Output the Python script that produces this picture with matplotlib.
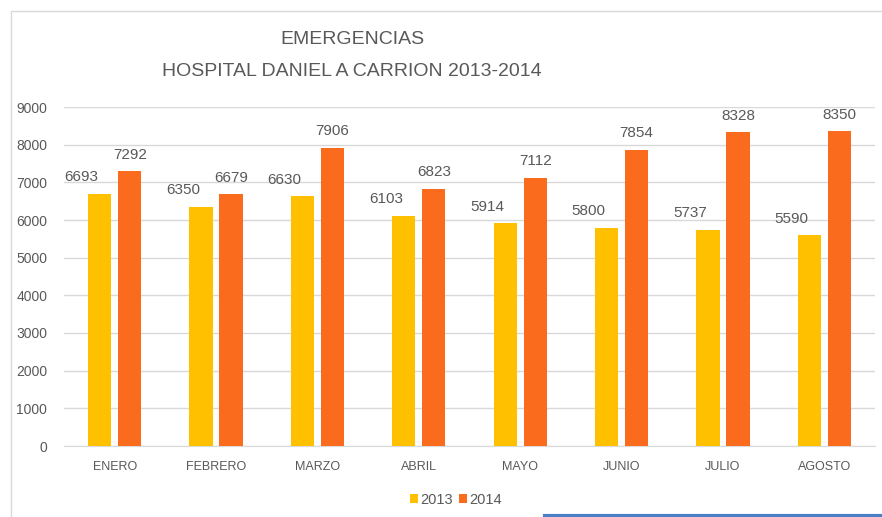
import matplotlib
matplotlib.use("Agg")
import matplotlib.pyplot as plt
from matplotlib.patches import Rectangle
from matplotlib.lines import Line2D
import numpy as np

plt.rcParams['font.family'] = ['Liberation Sans', 'DejaVu Sans']

months = ["ENERO", "FEBRERO", "MARZO", "ABRIL", "MAYO", "JUNIO", "JULIO", "AGOSTO"]
v2013 = [6693, 6350, 6630, 6103, 5914, 5800, 5737, 5590]
v2014 = [7292, 6679, 7906, 6823, 7112, 7854, 8328, 8350]
series_names = ["2013", "2014"]
title_lines = ["EMERGENCIAS", "HOSPITAL DANIEL A CARRION 2013-2014"]

c13 = "#FFC000"
c14 = "#FA6B1E"
txt = "#595959"

fig = plt.figure(figsize=(8.82, 5.17), dpi=100)
W, H = 882, 517
ax = fig.add_axes([64/W, 71/H, (875-64)/W, (446-107)/H])

x = np.arange(len(months))
bw = 0.23
off = 0.148
ax.bar(x - off, v2013, bw, color=c13, zorder=3, label=series_names[0])
ax.bar(x + off, v2014, bw, color=c14, zorder=3, label=series_names[1])

for xi, v in zip(x, v2013):
    ax.annotate(str(v), (xi - off, v), xytext=(-13, 7), textcoords="offset points",
                ha="center", va="bottom", fontsize=11, color=txt)
for xi, v in zip(x, v2014):
    ax.annotate(str(v), (xi + off, v), xytext=(0, 7), textcoords="offset points",
                ha="center", va="bottom", fontsize=11, color=txt)

ax.set_xlim(-0.5, len(months) - 0.5)
ax.set_ylim(0, 9000)
ax.set_yticks(np.arange(0, 9001, 1000))
ax.set_xticks(x)
ax.set_xticklabels(months, fontsize=9)
ax.tick_params(axis="both", length=0, colors=txt)
ax.tick_params(axis="y", labelsize=10, pad=12)
ax.tick_params(axis="x", pad=11)
ax.grid(axis="y", color="#D9D9D9", linewidth=1, zorder=0)
for s in ["top", "right", "left"]:
    ax.spines[s].set_visible(False)
ax.spines["bottom"].set_color("#D9D9D9")

fig.text(352/W, 1 - 40/H, title_lines[0], ha="center", va="center", fontsize=14, color=txt)
fig.text(352/W, 1 - 72/H, title_lines[1], ha="center", va="center", fontsize=14, color=txt)

leg = fig.legend(loc="center", bbox_to_anchor=(456/W, 1 - 500/H), ncol=2, frameon=False,
                 fontsize=10.5, handlelength=0.55, handleheight=0.55, handletextpad=0.15,
                 columnspacing=0.4, labelcolor=txt)

fig.patches.append(Rectangle((11/W, -0.1), 1.2, 1 - 11/H + 0.1, transform=fig.transFigure,
                             fill=False, edgecolor="#D9D9D9", linewidth=1))
fig.lines.append(Line2D([545/W, 1.0], [1.5/H, 1.5/H], transform=fig.transFigure,
                        color="#4A7FC8", linewidth=3))

fig.savefig("out.png", dpi=100)
